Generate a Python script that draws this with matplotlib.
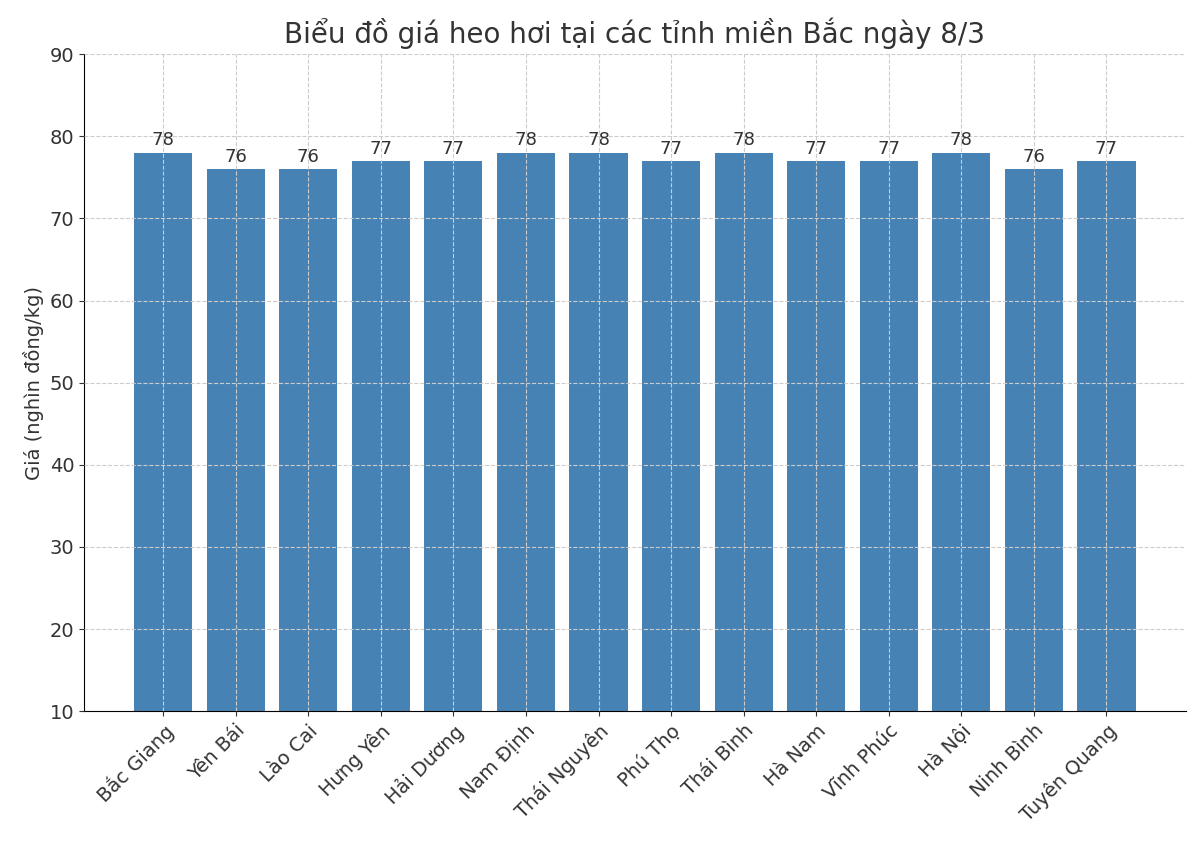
import matplotlib
matplotlib.use("Agg")
import matplotlib.pyplot as plt

provinces = ["Bắc Giang", "Yên Bái", "Lào Cai", "Hưng Yên", "Hải Dương", "Nam Định",
             "Thái Nguyên", "Phú Thọ", "Thái Bình", "Hà Nam", "Vĩnh Phúc", "Hà Nội",
             "Ninh Bình", "Tuyên Quang"]
prices = [78, 76, 76, 77, 77, 78, 78, 77, 78, 77, 77, 78, 76, 77]

plt.rcParams['font.family'] = ['DejaVu Sans']
fig = plt.figure(figsize=(12, 8.58), dpi=100)
ax = fig.add_axes([0.07, 0.171, 0.918, 0.766])
bars = ax.bar(provinces, prices, color='steelblue', width=0.8)
ax.set_ylim(10, 90)
ax.set_xlim(-1.09, 14.09)
ax.grid(True, linestyle='--', color='#cccccc', linewidth=0.8)
ax.set_axisbelow(False)
for s in ['top', 'right']:
    ax.spines[s].set_visible(False)
for b, v in zip(bars, prices):
    ax.text(b.get_x() + b.get_width()/2, v + 0.4, str(v), ha='center', va='bottom',
            fontsize=13, color='#333333')
ax.set_title("Biểu đồ giá heo hơi tại các tỉnh miền Bắc ngày 8/3", fontsize=20,
             color='#333333', pad=8)
ax.set_ylabel("Giá (nghìn đồng/kg)", fontsize=14, color='#333333')
ax.tick_params(axis='both', labelsize=14, colors='#333333')
plt.setp(ax.get_xticklabels(), rotation=45, ha='right', rotation_mode='anchor')
fig.savefig("out.png", dpi=100)
